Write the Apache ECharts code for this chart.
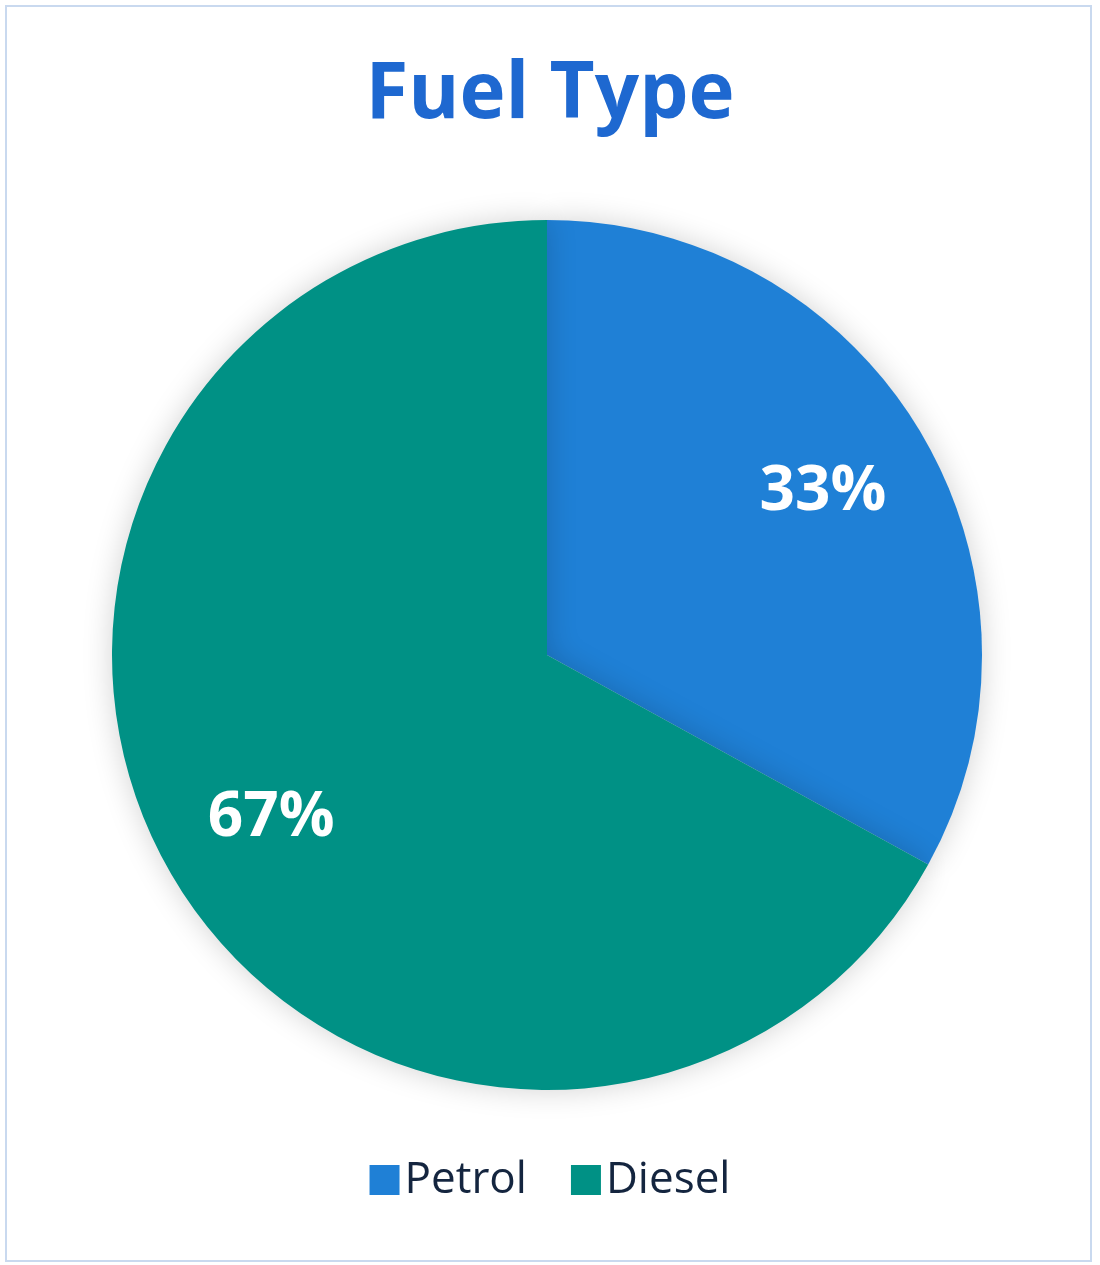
<!DOCTYPE html>
<html><head><meta charset="utf-8">
<script src="https://cdn.jsdelivr.net/npm/echarts@6/dist/echarts.min.js"></script>
<style>html,body{margin:0;padding:0;background:#fff}#c{width:1100px;height:1265px}
#b{position:absolute;left:5px;top:5px;width:1083px;height:1253px;border:2px solid #c9d9ef;pointer-events:none}</style>
</head><body><div id="c"></div><div id="b"></div>
<script>
const categories=['Petrol','Diesel'];
const values=[33,67];
const colors=['#1f80d6','#009185'];
const data=categories.map((n,i)=>({name:n,value:values[i],itemStyle:{color:colors[i]}}));
const chart=echarts.init(document.getElementById('c'));
chart.setOption({
  title:{text:'Fuel Type',left:'center',top:52,textStyle:{fontFamily:'Open Sans',fontWeight:'bold',fontSize:78,color:'#1e68d0'}},
  legend:{bottom:58,left:'center',itemWidth:30,itemHeight:30,itemGap:44,icon:'rect',
    textStyle:{fontFamily:'Open Sans',fontSize:44,color:'#14253f'},data:categories},
  series:[
   {type:'pie',center:[547,655],radius:[0,435],startAngle:90,clockwise:true,label:{show:false},labelLine:{show:false},
    itemStyle:{shadowBlur:30,shadowColor:'rgba(0,0,0,0.18)'},emphasis:{disabled:true},data:data},
   {type:'pie',center:[547,655],radius:[200,435],startAngle:90,clockwise:true,silent:true,legendHoverLink:false,
    itemStyle:{color:'transparent'},
    label:{show:true,position:'inside',formatter:'{c}%',fontFamily:'Open Sans',fontWeight:'bold',fontSize:62,color:'#fff'},
    data:categories.map((n,i)=>({name:n+' ',value:values[i]}))}
  ]
});
</script></body></html>
